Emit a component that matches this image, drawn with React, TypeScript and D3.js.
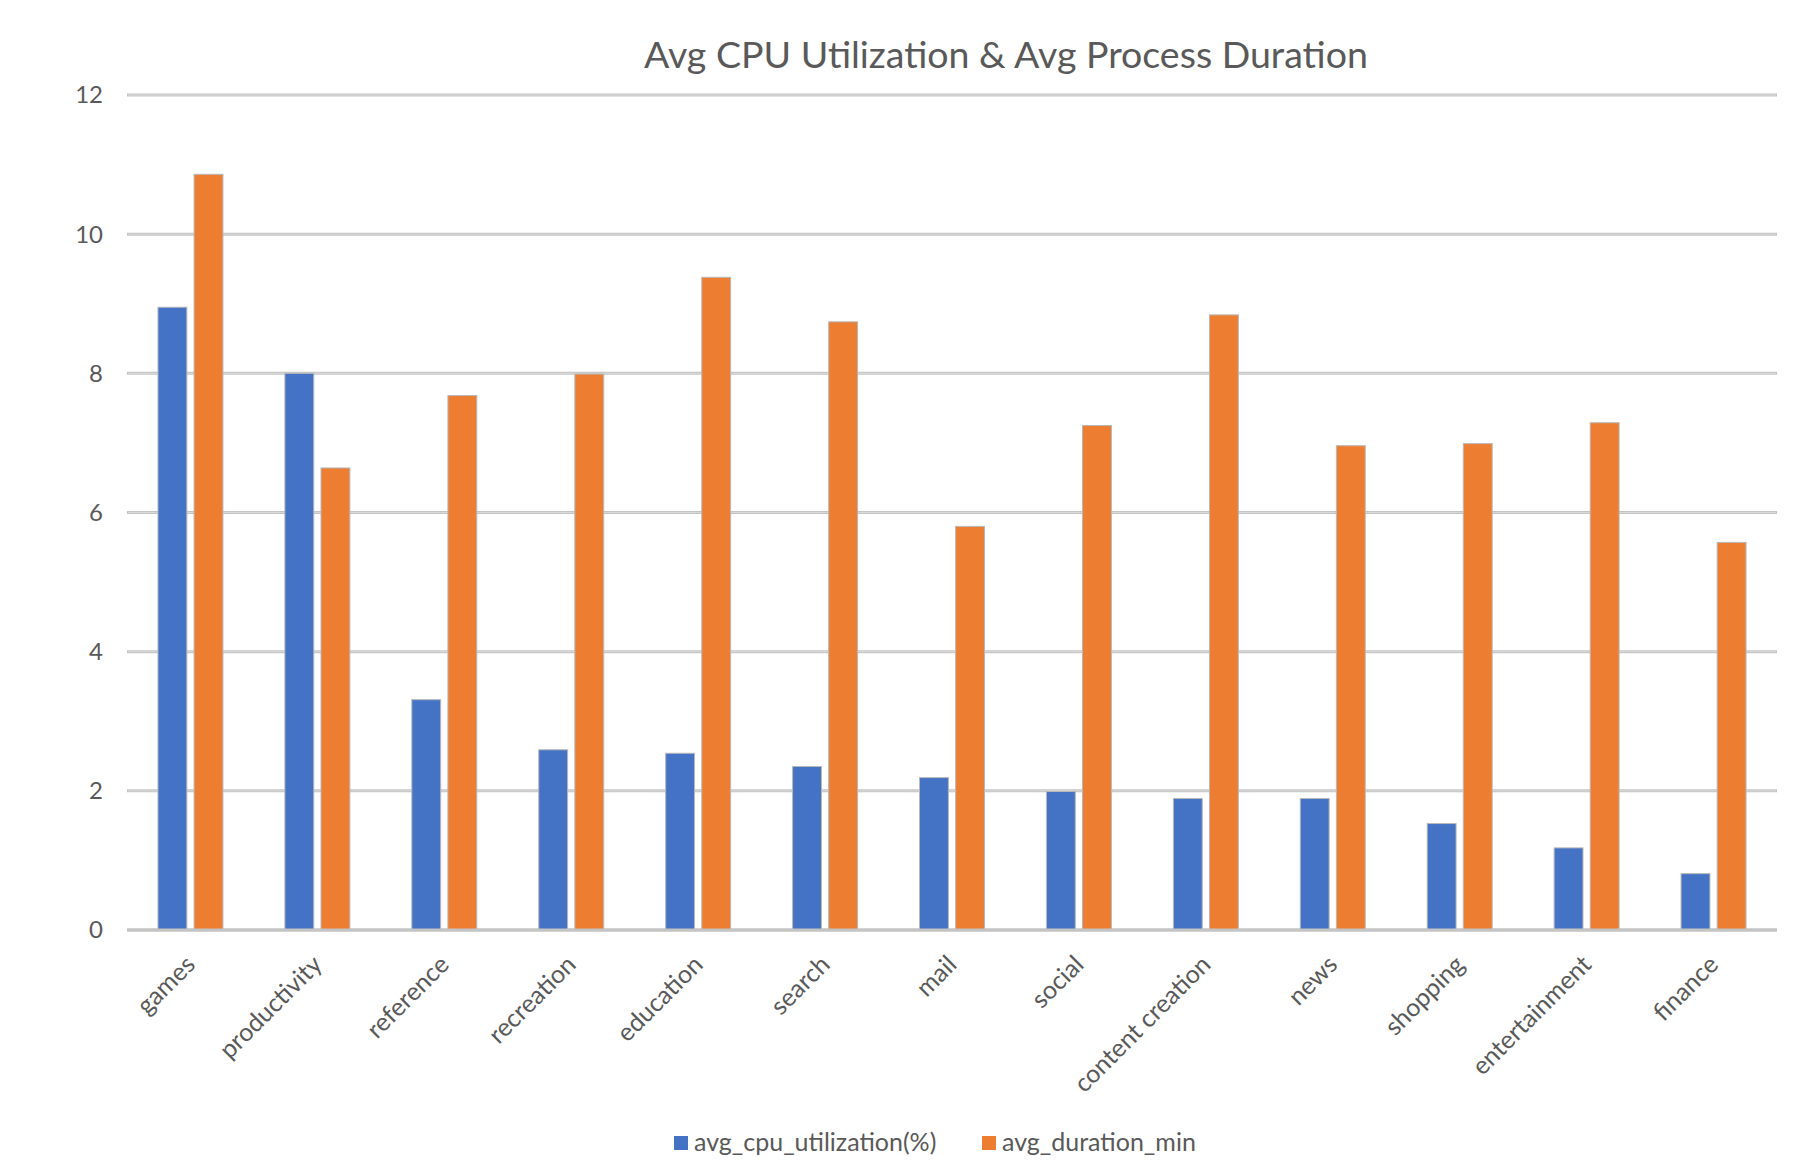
import { useEffect } from 'react';
import * as d3 from 'd3';

const categories = [
  'games', 'productivity', 'reference', 'recreation', 'education', 'search', 'mail',
  'social', 'content creation', 'news', 'shopping', 'entertainment', 'finance',
];
const seriesNames = ['avg_cpu_utilization(%)', 'avg_duration_min'];
const cpuValues = [8.95, 8.0, 3.31, 2.59, 2.54, 2.35, 2.19, 1.99, 1.89, 1.89, 1.53, 1.18, 0.81];
const durationValues = [10.86, 6.64, 7.68, 7.99, 9.38, 8.74, 5.8, 7.25, 8.84, 6.96, 6.99, 7.29, 5.57];
const yTicks = [0, 2, 4, 6, 8, 10, 12];
const colours = ['#4472C4', '#ED7D31'];
const title = 'Avg CPU Utilization & Avg Process Duration';

const width = 1806;
const height = 1161;
const margin = { top: 95, right: 29, bottom: 231, left: 127 };
const font = 'Lato, "Open Sans", sans-serif';
const textColour = '#595959';

export default function App() {
  useEffect(() => {
    document.body.style.margin = '0';
  }, []);

  const x0 = d3.scaleBand<string>()
    .domain(categories)
    .range([margin.left, width - margin.right])
    .paddingInner(0.488)
    .paddingOuter(0.244);

  const x1 = d3.scaleBand<string>()
    .domain(seriesNames)
    .range([0, x0.bandwidth()])
    .paddingInner(0.2);

  const y = d3.scaleLinear()
    .domain([0, 12])
    .range([height - margin.bottom, margin.top]);

  const series = [cpuValues, durationValues];

  return (
    <svg width={width} height={height} style={{ display: 'block', background: '#fff' }}>
      <text
        x={1006}
        y={68}
        textAnchor="middle"
        fontFamily={font}
        fontSize={37.5}
        fill={textColour}
      >
        {title}
      </text>

      {/* Gridlines and y tick labels */}
      {yTicks.map(tick => (
        <g key={tick} transform={`translate(0,${y(tick)})`}>
          <line x1={margin.left} x2={width - margin.right} stroke="#c4c4c4" strokeWidth={3} />
          <line x1={margin.left + 1} x2={width - margin.right - 1} stroke="#dadada" strokeWidth={1} />
          <text
            x={103}
            dy="0.35em"
            textAnchor="end"
            fontFamily={font}
            fontSize={24}
            fill={textColour}
          >
            {tick}
          </text>
        </g>
      ))}

      {/* Bars */}
      {categories.map((cat, i) => (
        <g key={cat} transform={`translate(${x0(cat)},0)`}>
          {seriesNames.map((name, s) => (
            <rect
              key={name}
              x={x1(name)}
              y={y(series[s][i])}
              width={x1.bandwidth()}
              height={y(0) - y(series[s][i])}
              fill={colours[s]}
              stroke="#b8b8b8"
              strokeWidth={1}
            />
          ))}
        </g>
      ))}

      {/* Axis line on top */}
      <line x1={margin.left} x2={width - margin.right} y1={y(0)} y2={y(0)} stroke="#c4c4c4" strokeWidth={3} />

      {/* Category labels */}
      {categories.map(cat => (
        <text
          key={cat}
          transform={`translate(${(x0(cat) as number) + x0.bandwidth() / 2},${y(0) + 30}) rotate(-45)`}
          textAnchor="end"
          dy="0.35em"
          fontFamily={font}
          fontSize={25}
          fill={textColour}
        >
          {cat}
        </text>
      ))}

      {/* Legend */}
      {[{ x: 674, tx: 694 }, { x: 982, tx: 1002 }].map((pos, s) => (
        <g key={seriesNames[s]}>
          <rect x={pos.x} y={1136} width={14} height={14} fill={colours[s]} />
          <text
            x={pos.tx}
            y={1151}
            fontFamily={font}
            fontSize={25}
            fill={textColour}
          >
            {seriesNames[s]}
          </text>
        </g>
      ))}
    </svg>
  );
}
